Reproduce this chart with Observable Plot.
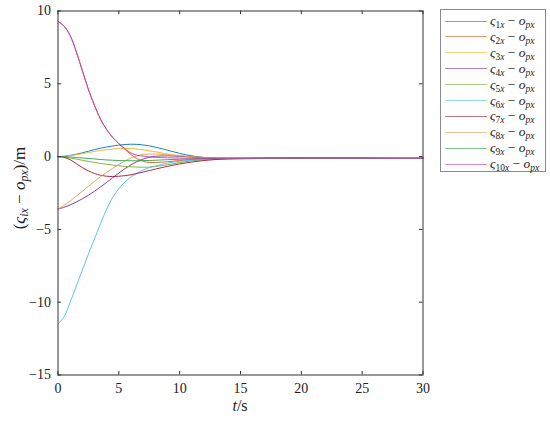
<!DOCTYPE html>
<html>
<head>
<meta charset="utf-8">
<script src="https://cdn.jsdelivr.net/npm/d3@7"></script>
<script src="https://cdn.jsdelivr.net/npm/@observablehq/plot@0.6"></script>
<style>
  html, body { margin: 0; padding: 0; background: #fff; }
  #wrap { position: relative; width: 550px; height: 421px; font-family: "Liberation Serif", serif; color: #222; }
  #legend { position: absolute; left: 440px; top: 9px; width: 106px; height: 163px; border: 1px solid #8a8a8a; background: #fff; box-sizing: border-box; }
  .row { position: absolute; left: 4px; height: 14px; line-height: 14px; display: flex; align-items: center; font-size: 13.5px; white-space: nowrap; }
  .sw { width: 42px; height: 0; border-top: 1.6px solid; margin-right: 3px; opacity: 0.6; }
  .row sub, .lab sub { font-size: 70%; vertical-align: -0.3em; line-height: 0; }
  .lab { line-height: 1; }
  #ylab { position: absolute; left: 19px; top: 188px; transform: translate(-50%, -50%) rotate(-90deg); font-size: 17px; white-space: nowrap; }
  #xlab { position: absolute; left: 240px; top: 406px; transform: translate(-50%, -50%); font-size: 16px; white-space: nowrap; }
</style>
</head>
<body>
<div id="wrap"></div>
<script>
// ---- data ----
const t = [0, 0.5, 1, 1.5, 2, 2.5, 3, 3.5, 4, 4.5, 5, 5.5, 6, 6.5, 7, 7.5, 8, 9, 10, 11, 12, 13, 14, 16, 18, 20, 22, 25, 28, 30];
const s1 = [0, 0.02, 0.08, 0.16, 0.26, 0.37, 0.48, 0.58, 0.66, 0.73, 0.79, 0.83, 0.85, 0.84, 0.8, 0.74, 0.65, 0.44, 0.22, 0.05, -0.06, -0.12, -0.14, -0.14, -0.12, -0.1, -0.1, -0.11, -0.12, -0.12];
const s2 = [9.28, 8.95, 8.3, 7.2, 5.9, 4.6, 3.5, 2.55, 1.85, 1.3, 0.88, 0.5, 0.14, -0.14, -0.32, -0.4, -0.4, -0.35, -0.27, -0.2, -0.16, -0.13, -0.12, -0.1, -0.09, -0.09, -0.1, -0.11, -0.12, -0.12];
const s3 = [0, 0.02, 0.07, 0.13, 0.2, 0.28, 0.35, 0.42, 0.48, 0.52, 0.55, 0.56, 0.55, 0.52, 0.47, 0.4, 0.33, 0.18, 0.06, -0.02, -0.07, -0.1, -0.11, -0.11, -0.1, -0.1, -0.1, -0.11, -0.12, -0.12];
const s4 = [-3.6, -3.48, -3.32, -3.12, -2.9, -2.65, -2.38, -2.08, -1.77, -1.45, -1.13, -0.83, -0.56, -0.34, -0.17, -0.05, 0.02, 0.05, 0.02, -0.03, -0.07, -0.1, -0.11, -0.12, -0.11, -0.1, -0.1, -0.11, -0.12, -0.12];
const s5 = [0, -0.04, -0.1, -0.17, -0.25, -0.33, -0.4, -0.47, -0.53, -0.58, -0.63, -0.67, -0.7, -0.72, -0.73, -0.72, -0.68, -0.56, -0.41, -0.29, -0.21, -0.16, -0.14, -0.12, -0.11, -0.1, -0.1, -0.11, -0.12, -0.12];
const s6 = [-11.5, -11.0, -10.0, -8.9, -7.8, -6.7, -5.65, -4.6, -3.6, -2.8, -2.2, -1.75, -1.4, -1.12, -0.92, -0.76, -0.64, -0.45, -0.32, -0.24, -0.19, -0.16, -0.14, -0.12, -0.11, -0.1, -0.1, -0.11, -0.12, -0.12];
const s7 = [0, -0.05, -0.22, -0.48, -0.75, -0.98, -1.16, -1.28, -1.35, -1.37, -1.35, -1.31, -1.25, -1.16, -1.06, -0.96, -0.86, -0.67, -0.5, -0.37, -0.27, -0.2, -0.16, -0.13, -0.11, -0.1, -0.1, -0.11, -0.12, -0.12];
const s8 = [-3.6, -3.35, -3.05, -2.72, -2.38, -2.04, -1.7, -1.38, -1.08, -0.8, -0.54, -0.3, -0.1, 0.05, 0.14, 0.18, 0.18, 0.12, 0.05, -0.01, -0.06, -0.09, -0.11, -0.11, -0.1, -0.1, -0.1, -0.11, -0.12, -0.12];
const s9 = [0, -0.01, -0.03, -0.06, -0.09, -0.13, -0.16, -0.2, -0.23, -0.25, -0.27, -0.28, -0.29, -0.29, -0.28, -0.27, -0.25, -0.21, -0.18, -0.16, -0.14, -0.13, -0.12, -0.11, -0.1, -0.1, -0.1, -0.11, -0.12, -0.12];
const s10 = [9.3, 8.97, 8.32, 7.22, 5.92, 4.62, 3.52, 2.57, 1.87, 1.32, 0.9, 0.55, 0.24, 0.1, 0.03, -0.02, -0.05, -0.08, -0.1, -0.11, -0.12, -0.12, -0.12, -0.11, -0.1, -0.1, -0.1, -0.11, -0.12, -0.12];
const seriesNames = ["s1","s2","s3","s4","s5","s6","s7","s8","s9","s10"];
const seriesValues = [s1, s2, s3, s4, s5, s6, s7, s8, s9, s10];
const colors = ["#0072BD","#D95319","#EDB120","#7E2F8E","#77AC30","#4DBEEE","#A2142F","#E39B4C","#2E9E44","#C040B4"];
const xTicks = [0, 5, 10, 15, 20, 25, 30];
const yTicks = [-15, -10, -5, 0, 5, 10];
const legendIdx = ["1","2","3","4","5","6","7","8","9","10"];

// ---- build ----
const long = [];
seriesValues.forEach((arr, k) => arr.forEach((v, i) => long.push({t: t[i], v, s: seriesNames[k]})));
const fmt = d => (d < 0 ? "\u2212" + Math.abs(d) : String(d));
const tk = 0.25, tkx = 0.3; // inner tick length in data units (~3.6px)

const chart = Plot.plot({
  width: 550, height: 421,
  marginLeft: 57.5, marginRight: 127.5, marginTop: 10.5, marginBottom: 46.5,
  x: {domain: [0, 30]},
  y: {domain: [-15, 10]},
  color: {domain: seriesNames, range: colors},
  style: {fontFamily: "'Liberation Serif', serif", fontSize: "14px", background: "white", color: "#222"},
  marks: [
    Plot.line(long, {x: "t", y: "v", z: "s", stroke: "s", curve: "catmull-rom", strokeWidth: 1, strokeOpacity: 0.9}),
    Plot.ruleX(xTicks, {x: d => d, y1: -15, y2: -15 + tk, stroke: "#333"}),
    Plot.ruleX(xTicks, {x: d => d, y1: 10, y2: 10 - tk, stroke: "#333"}),
    Plot.ruleY(yTicks, {y: d => d, x1: 0, x2: tkx, stroke: "#333"}),
    Plot.ruleY(yTicks, {y: d => d, x1: 30, x2: 30 - tkx, stroke: "#333"}),
    Plot.frame({stroke: "#333"}),
    Plot.axisX(xTicks, {tickSize: 0, tickPadding: 8, label: null, tickFormat: fmt, fontSize: 14}),
    Plot.axisY(yTicks, {tickSize: 0, tickPadding: 7, label: null, tickFormat: fmt, fontSize: 14})
  ]
});
const wrap = document.getElementById("wrap");
wrap.appendChild(chart);

// legend
const leg = document.createElement("div");
leg.id = "legend";
legendIdx.forEach((n, i) => {
  const r = document.createElement("div");
  r.className = "row";
  r.style.top = (4 + i * 15.9) + "px";
  r.innerHTML = `<span class="sw" style="border-color:${colors[i]}"></span><span><i>ς</i><sub>${n}<i>x</i></sub> − <i>o</i><sub><i>px</i></sub></span>`;
  leg.appendChild(r);
});
wrap.appendChild(leg);

const yl = document.createElement("div");
yl.id = "ylab"; yl.className = "lab";
yl.innerHTML = `(<i>ς</i><sub><i>ix</i></sub> − <i>o</i><sub><i>px</i></sub>)/m`;
wrap.appendChild(yl);
const xl = document.createElement("div");
xl.id = "xlab"; xl.className = "lab";
xl.innerHTML = `<i>t</i>/s`;
wrap.appendChild(xl);
</script>
</body>
</html>
